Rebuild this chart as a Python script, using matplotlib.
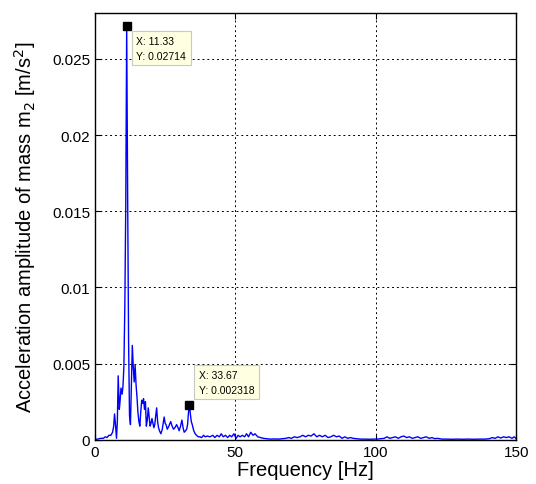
import numpy as np
import matplotlib
matplotlib.use("Agg")
import matplotlib.pyplot as plt

plt.rcParams['font.family'] = ['Liberation Sans', 'DejaVu Sans']

# spectrum, in pieces (Hz, m/s^2)
freq_start = [0.0, 1.0, 2.0, 3.0, 3.7, 4.3, 5.0, 5.7, 6.3, 6.7, 7.0, 7.3, 7.7,
              8.0, 8.3, 8.7, 9.0, 9.3, 9.7, 10.0, 10.33, 10.67]
amp_start = [0.00003, 0.00005, 0.0001, 0.0001, 0.0002, 0.00015, 0.0003, 0.0003,
             0.0005, 0.0009, 0.0017, 0.0011, 0.0001, 0.0012, 0.0042, 0.0020,
             0.0026, 0.0034, 0.0030, 0.0035, 0.0048, 0.0088]

freq_peak = [11.0, 11.33, 11.67, 12.0, 12.33, 12.67, 13.0, 13.33, 13.67, 14.0,
             14.33, 14.67, 15.0, 15.33, 15.67, 16.0, 16.33, 16.67, 17.0, 17.33,
             17.67, 18.0, 18.33, 18.67, 19.0, 19.33, 19.67, 20.0, 20.33, 20.67,
             21.0, 21.33, 21.67, 22.0, 22.33, 22.67, 23.0, 23.5, 24.0, 24.67]
amp_peak = [0.0155, 0.02714, 0.0160, 0.0065, 0.0016, 0.0010, 0.0035, 0.0062,
            0.0048, 0.0038, 0.0049, 0.0036, 0.0028, 0.0018, 0.0012, 0.0009,
            0.0018, 0.0026, 0.0024, 0.0027, 0.0020, 0.0025, 0.0009, 0.0013,
            0.0021, 0.0015, 0.0009, 0.0011, 0.0014, 0.0011, 0.0008, 0.0010,
            0.0016, 0.0021, 0.0012, 0.0008, 0.0006, 0.0004, 0.0007, 0.0015]

freq_mid = [25.0, 25.33, 25.8, 26.33, 27.0, 27.5, 28.0, 28.5, 29.1, 29.6, 30.0,
            30.5, 31.0, 31.4, 31.8, 32.3, 32.7, 33.0, 33.33, 33.67, 34.0, 34.33,
            34.67, 35.2, 35.7, 36.2, 36.8, 37.4, 38.0, 38.7, 39.3, 40.0, 41.0,
            42.0, 42.7, 43.5, 44.3, 45.0, 45.7, 46.5, 47.3, 48.0, 48.7, 49.5,
            50.3, 51.0, 51.7, 52.5, 53.3, 54.0, 54.7, 55.5, 56.3, 57.0, 58.0,
            59.0, 60.0]
amp_mid = [0.0011, 0.0010, 0.0007, 0.0009, 0.0012, 0.0009, 0.0007, 0.0008,
           0.0010, 0.0008, 0.0006, 0.0009, 0.0013, 0.0008, 0.0005, 0.0006,
           0.0007, 0.0010, 0.0018, 0.002318, 0.0017, 0.0012, 0.0010, 0.0006,
           0.0004, 0.0003, 0.0002, 0.0002, 0.00015, 0.0003, 0.0002, 0.00025,
           0.0002, 0.0003, 0.00015, 0.0003, 0.0002, 0.0004, 0.0002, 0.0003,
           0.00015, 0.0003, 0.0002, 0.0004, 0.0001, 0.0003, 0.0002, 0.0003,
           0.0002, 0.0004, 0.0002, 0.0005, 0.0003, 0.0004, 0.0002, 0.00015,
           0.0001]

freq_tail = [61, 62.5, 64, 65.5, 67, 68, 69, 70, 71, 72, 73, 74, 75, 76, 77, 78,
             79, 80, 81, 82, 83, 84, 85, 86, 87, 88, 89, 90, 91, 92, 93, 94.5,
             96, 97.5, 99, 100.5, 102, 103, 104, 105, 106, 107, 108, 109, 110,
             111, 112, 113, 114, 115, 116, 117, 118, 119, 120, 121, 122, 123.5,
             125, 127, 129, 131, 133, 135, 137, 139, 140.5, 141.5, 142.5, 143.5,
             144.5, 145.5, 146.5, 147.5, 148.5, 149.3, 150]
amp_tail = [0.00008, 0.00005, 0.00006, 0.00005, 0.00008, 0.0001, 0.00015, 0.0001,
            0.0002, 0.00015, 0.0002, 0.0003, 0.0002, 0.0003, 0.00025, 0.0004,
            0.0002, 0.0003, 0.0002, 0.0003, 0.00015, 0.0002, 0.0003, 0.0002,
            0.00025, 0.0001, 0.0002, 0.0001, 0.00015, 0.0001, 0.00008, 0.00005,
            0.00005, 0.00004, 0.00005, 0.00005, 0.00008, 0.0001, 0.0002, 0.0001,
            0.00015, 0.0002, 0.0001, 0.0002, 0.00025, 0.00015, 0.0002, 0.0001,
            0.00015, 0.0002, 0.0001, 0.00015, 0.0002, 0.0001, 0.00015, 0.00008,
            0.0001, 0.00005, 0.00005, 0.00004, 0.00005, 0.00004, 0.00005,
            0.00004, 0.00005, 0.00005, 0.00008, 0.00015, 0.0001, 0.0002, 0.00012,
            0.0002, 0.00015, 0.0002, 0.0001, 0.0002, 0.00008]

# data tips
tip_x = [11.33, 33.67]
tip_y = [0.02714, 0.002318]
tip_text = ['X: 11.33\nY: 0.02714', 'X: 33.67\nY: 0.002318']

yticks = [0, 0.005, 0.01, 0.015, 0.02, 0.025]
ytick_labels = ['0', '0.005', '0.01', '0.015', '0.02', '0.025']

freq = np.concatenate([freq_start, freq_peak, freq_mid, freq_tail])
amp = np.concatenate([amp_start, amp_peak, amp_mid, amp_tail])

fig = plt.figure(figsize=(5.36, 4.85), dpi=100)
ax = fig.add_axes([0.177, 0.091, 0.786, 0.880])

ax.plot(freq, amp, color='#0000ff', linewidth=1.0)

ax.set_xlim(0, 150)
ax.set_ylim(0, 0.028)
ax.set_xticks([0, 50, 100, 150])
ax.set_yticks(yticks)
ax.set_yticklabels(ytick_labels)

ax.grid(True, color='black', linestyle=(0, (2, 3)), linewidth=0.7)
ax.tick_params(direction='in', length=4, labelsize=11, top=True, right=True,
               width=0.8)
for s in ax.spines.values():
    s.set_linewidth(1.0)

ax.set_xlabel('Frequency [Hz]', fontsize=14.5, labelpad=1)
ax.set_ylabel('Acceleration amplitude of mass m$_2$ [m/s$^2$]', fontsize=14.5,
              labelpad=10)

# data tip markers and boxes
ax.plot(tip_x, tip_y, 's', color='black', markersize=6, zorder=5)
box = dict(boxstyle='square,pad=0.45', fc='#ffffe1', ec='#c8c8c8', lw=0.8)
ax.annotate(tip_text[0], (tip_x[0], tip_y[0]), xytext=(7, -7),
            textcoords='offset points', ha='left', va='top', fontsize=7.5,
            bbox=box, linespacing=1.6, zorder=6)
ax.annotate(tip_text[1], (tip_x[1], tip_y[1]), xytext=(7, 7),
            textcoords='offset points', ha='left', va='bottom', fontsize=7.5,
            bbox=box, linespacing=1.6, zorder=6)

fig.savefig('out.png', dpi=100)
